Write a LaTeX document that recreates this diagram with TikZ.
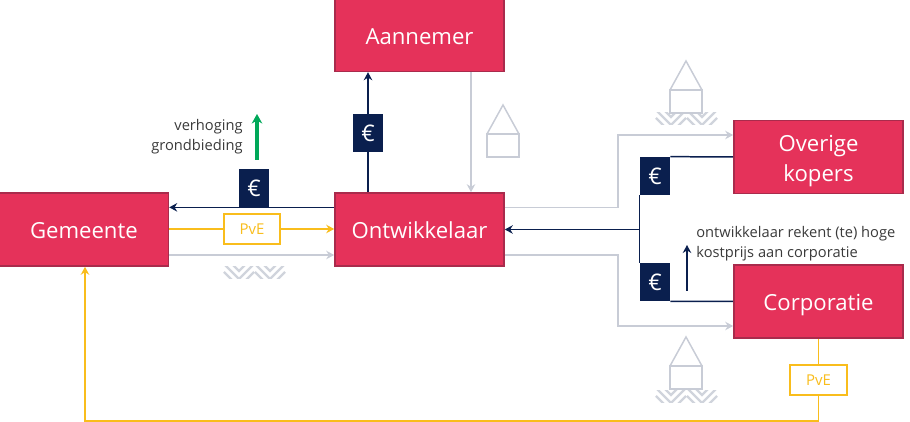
\documentclass[tikz,border=0pt]{standalone}
\usepackage{fontspec}
\setmainfont{Open Sans}
\usetikzlibrary{arrows.meta,positioning,calc}
\definecolor{rood}{HTML}{E5325A}
\definecolor{roodrand}{HTML}{A92B4C}
\definecolor{navy}{HTML}{0A1F4E}
\definecolor{geel}{HTML}{F9BD1C}
\definecolor{grijs}{HTML}{C8CCD6}
\definecolor{groen}{HTML}{00A859}
\definecolor{tekst}{HTML}{3A3A3A}
\tikzset{
  partij/.style={draw=roodrand, fill=rood, line width=0.9pt, text=white, align=center, font=\fontsize{12.6}{17.6}\selectfont, minimum width=3.38cm, minimum height=1.46cm, inner sep=0pt, text height=10.8pt, text depth=0pt},
  euro/.style={fill=navy, text=white, font=\fontsize{13}{13}\selectfont, minimum width=0.6cm, minimum height=0.76cm, inner sep=0pt},
  pve/.style={draw=geel, fill=white, text=geel, line width=1pt, font=\fontsize{8.5}{9}\selectfont, minimum width=1.13cm, minimum height=0.61cm, inner sep=0pt},
  uitleg/.style={font=\fontsize{8.35}{11.4}\selectfont, text=tekst, inner sep=0pt},
  grond/.style={minimum width=1.26cm, minimum height=0.24cm, inner sep=0pt, path picture={
    \foreach \m in {-0.31,0.31} \foreach \k in {-0.16,0,0.16,0.32} {
      \draw[grijs!85!white, line width=1.4pt] ($(path picture bounding box.south)+(\m-0.3,\k+0.3)$) -- ++(0.3,-0.3) -- ++(0.3,0.3);
    }}},
  geld/.style={-{Stealth[length=1.6mm,width=1.7mm]}, navy, line width=0.85pt},
  geldlijn/.style={navy, line width=0.85pt},
  bouw/.style={-{Stealth[length=1.6mm,width=1.7mm]}, grijs, line width=0.8pt},
  eis/.style={-{Stealth[length=1.6mm,width=1.7mm]}, geel, line width=1pt},
  eislijn/.style={geel, line width=1pt},
  huis/.style={draw=grijs, line width=0.85pt},
}
\newcommand{\huisje}[1]{\draw[huis] (#1) rectangle ++(0.64,-0.46); \draw[huis] (#1) -- ++(0.32,0.58) -- ++(0.32,-0.58);}
\begin{document}
\begin{tikzpicture}
    \useasboundingbox (0,0) rectangle (18.2,-8.44);

    \node[partij] (ontwikkelaar) at (8.39,-4.59) {Ontwikkelaar};
    \node[partij, left=3.3cm of ontwikkelaar] (gemeente) {Gemeente};
    \node[partij, above=2.4cm of ontwikkelaar] (aannemer) {Aannemer};
    \node[partij, text height=28.4pt] (overige) at (16.37,-3.14) {Overige\\kopers};
    \node[partij] (corporatie) at (16.37,-6.03) {Corporatie};

    \node[euro] (euroG) at (5.08,-3.76) {€};
    \node[euro] (euroA) at (7.36,-2.66) {€};
    \node[euro] (euroO) at (13.1,-3.52) {€};
    \node[euro] (euroC) at (13.1,-5.64) {€};
    \node[pve] (pveG) at (5.04,-4.58) {PvE};
    \node[pve, below=0.5cm of corporatie.south] (pveC) {PvE};

    \node[grond] (grondG) at (5.09,-5.46) {};
    \node[grond] (grondO) at (13.73,-2.38) {};
    \node[grond] (grondC) at (13.73,-7.94) {};

    \coordinate (hoekO) at (12.36,-2.7);
    \coordinate (hoekC) at (12.36,-6.52);
    \coordinate (hoekG) at (1.7,-8.42);
    \coordinate (hoekP) at (16.37,-8.42);
    \coordinate (pijlV) at (5.14,-3.2);
    \coordinate (pijlK) at (13.74,-5.82);

    \node[uitleg, align=right, anchor=east] (verhoging) at (4.86,-2.74) {verhoging\\grondbieding};
    \node[uitleg, align=left, anchor=west] (kostprijs) at (13.92,-4.87) {ontwikkelaar rekent (te) hoge\\kostprijs aan corporatie};

    \draw[geld] (ontwikkelaar.west |- euroG.south) -- (gemeente.east |- euroG.south);
    \draw[eislijn] (gemeente.east |- pveG.west) -- (pveG.west);
    \draw[eis] (pveG.east) -- (ontwikkelaar.west |- pveG.east);
    \draw[bouw] ([yshift=-0.51cm]gemeente.east) -- ([yshift=-0.51cm]ontwikkelaar.west);

    \draw[geldlijn] (ontwikkelaar.north -| euroA) -- (euroA.south);
    \draw[geld] (euroA.north) -- (aannemer.south -| euroA);
    \draw[bouw] ([xshift=1.03cm]aannemer.south) -- ([xshift=1.03cm]ontwikkelaar.north);

    \draw[bouw] ([yshift=0.44cm]ontwikkelaar.east) -| (hoekO) -- ([yshift=0.44cm]overige.west);
    \draw[bouw] ([yshift=-0.51cm]ontwikkelaar.east) -| (hoekC) -- ([yshift=-0.49cm]corporatie.west);
    \draw[geldlijn] (overige.west) -- (euroO.north east);
    \draw[geldlijn] (corporatie.west) -- (euroC.south east);
    \draw[geldlijn] (euroO.south west) -- (euroC.north west);
    \draw[geld] (euroO.south west |- ontwikkelaar.east) -- (ontwikkelaar.east);

    \draw[eislijn] (corporatie.south) -- (pveC.north);
    \draw[eis] (pveC.south) -- (hoekP) -- (hoekG) -- (gemeente.south -| hoekG);

    \draw[-{Stealth[length=1.9mm,width=2.1mm]}, groen, line width=1.8pt] (pijlV) -- ++(0,0.92);
    \draw[geld] (pijlK) -- ++(0,0.92);

    \huisje{9.74,-2.68}
    \huisje{13.4,-1.8}
    \huisje{13.4,-7.32}
\end{tikzpicture}
\end{document}
